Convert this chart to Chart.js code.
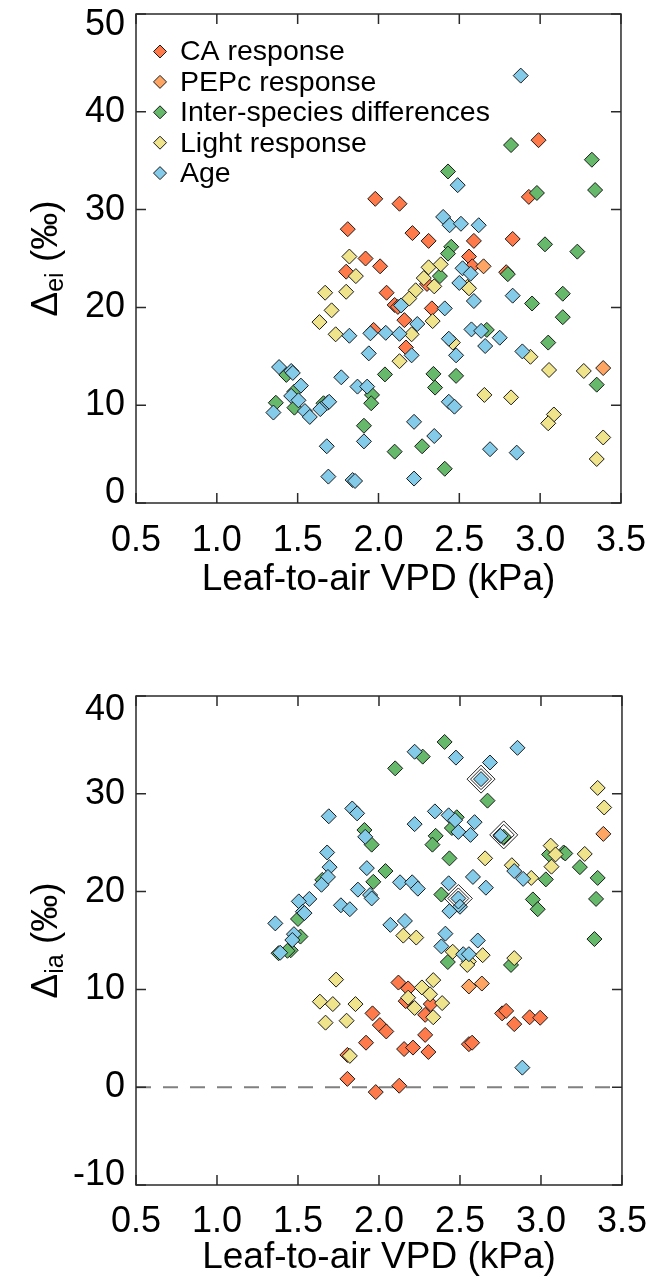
<!DOCTYPE html>
<html>
<head>
<meta charset="utf-8">
<script src="https://cdn.jsdelivr.net/npm/chart.js@4.4.1/dist/chart.umd.min.js"></script>
<style>
  html, body { margin: 0; padding: 0; background: #fff; }
  body { width: 662px; height: 1283px; position: relative; overflow: hidden; }
  canvas { position: absolute; left: 0; }
  #topChart { top: 0; }
  #bottomChart { top: 640px; }
</style>
</head>
<body>
<canvas id="topChart" width="662" height="640"></canvas>
<canvas id="bottomChart" width="662" height="643"></canvas>
<script>
const FONT = "'Liberation Sans', Arial, Helvetica, sans-serif";

const groupNames = ['CA response', 'PEPc response', 'Inter-species differences', 'Light response', 'Age'];
const groupColors = ['#FF7A4A', '#FFA564', '#66B96A', '#EFE38C', '#84CBEA'];
const xTitle = 'Leaf-to-air VPD (kPa)';

// top panel: Δei vs VPD, pairs of [VPD, Δ]
const caTop = [[1.98,31.1],[2.13,30.6],[1.81,28.0],[2.21,27.6],[2.31,26.8],[2.59,26.8],[2.83,27.0],[2.99,37.1],[2.93,31.3],[1.92,25.0],[2.56,25.2],[2.01,24.2],[1.80,23.65],[2.58,24.2],[2.79,23.6],[2.30,22.4],[2.05,21.5],[2.10,20.25],[2.12,20.05],[2.33,19.9],[2.16,18.7],[1.97,17.7],[2.17,15.9]];
const pepcTop = [[2.65,24.2],[3.39,13.8]];
const speciesTop = [[2.82,36.6],[3.32,35.1],[2.43,33.9],[3.34,32.0],[2.98,31.7],[3.03,26.45],[3.23,25.7],[2.45,26.2],[2.43,25.5],[2.38,23.2],[2.80,23.4],[2.95,20.4],[3.14,21.4],[3.14,19.0],[2.67,17.7],[3.05,16.4],[3.35,12.1],[1.43,13.1],[2.04,13.15],[2.34,13.2],[2.48,13.0],[2.35,11.8],[1.96,11.05],[1.955,10.2],[1.48,11.4],[1.365,10.25],[1.48,9.75],[1.66,10.2],[1.91,7.9],[2.10,5.25],[2.27,5.8],[2.41,3.5]];
const lightTop = [[1.82,25.2],[1.86,23.2],[2.31,24.1],[2.385,24.4],[2.28,23.0],[2.345,22.15],[2.55,22.1],[2.56,21.95],[2.23,21.75],[1.67,21.5],[1.80,21.6],[2.19,20.9],[1.71,19.7],[2.335,18.6],[1.635,18.5],[1.735,17.25],[2.205,17.25],[2.46,16.4],[2.94,14.95],[2.13,14.5],[3.055,13.6],[3.27,13.5],[2.655,11.05],[2.82,10.8],[3.085,9.05],[3.05,8.15],[3.39,6.7],[3.35,4.5]];
const ageTop = [[2.88,43.7],[2.49,32.5],[2.40,29.25],[2.44,28.4],[2.51,28.55],[2.62,28.4],[2.52,24.0],[2.57,23.45],[2.50,22.5],[2.83,21.2],[2.59,20.65],[2.14,20.2],[2.41,19.9],[2.24,18.3],[1.82,17.1],[1.95,17.35],[2.045,17.4],[2.13,17.3],[2.435,16.8],[2.575,17.75],[2.635,17.6],[2.75,16.9],[2.66,16.05],[2.89,15.5],[2.205,15.1],[1.94,15.3],[2.48,15.1],[1.385,13.9],[1.46,13.5],[1.47,13.3],[1.52,12.0],[1.77,12.85],[1.87,11.9],[1.93,11.9],[1.46,10.95],[1.505,10.5],[1.35,9.25],[1.545,9.4],[1.575,8.8],[1.64,9.6],[1.685,10.25],[1.695,10.35],[2.435,10.35],[2.47,9.85],[2.22,8.3],[2.345,6.85],[1.68,5.8],[1.91,6.3],[2.69,5.5],[2.855,5.15],[1.69,2.7],[1.84,2.35],[1.855,2.25],[2.22,2.5]];

// bottom panel: Δia vs VPD
const caBottom = [[2.12,10.7],[2.18,10.1],[2.165,8.8],[2.32,8.5],[2.285,7.4],[1.96,7.55],[2.005,6.35],[2.045,5.7],[1.92,4.55],[2.155,3.9],[2.21,4.05],[2.285,5.35],[2.305,3.6],[1.805,3.3],[1.805,0.85],[1.98,-0.5],[2.125,0.15],[2.76,7.55],[2.785,7.8],[2.835,6.45],[2.93,7.15],[2.995,7.1],[2.555,4.4],[2.575,4.55]];
const pepcBottom = [[3.385,25.9],[2.555,10.3],[2.635,10.6]];
const speciesBottom = [[2.405,35.3],[2.27,33.8],[2.10,32.6],[2.67,29.3],[2.48,27.6],[2.45,26.5],[2.77,25.6],[1.91,26.3],[1.955,24.8],[2.35,25.7],[2.33,24.8],[2.435,23.4],[1.65,21.2],[2.04,22.1],[1.965,21.0],[2.385,19.7],[3.05,23.8],[3.14,24.0],[3.15,23.9],[3.24,22.5],[3.03,21.25],[3.35,21.4],[2.95,19.2],[2.98,18.2],[3.34,19.25],[1.50,17.2],[1.515,15.4],[1.455,14.0],[1.38,13.7],[1.435,13.95],[2.425,12.8],[2.815,12.5],[3.33,15.15]];
const lightBottom = [[3.35,30.6],[3.39,28.6],[2.655,23.4],[2.82,22.7],[2.94,21.4],[3.06,24.7],[3.09,23.8],[3.065,22.55],[3.27,23.85],[2.15,15.5],[2.23,15.3],[2.455,13.85],[2.64,13.5],[2.555,12.85],[2.545,12.5],[2.835,13.2],[1.735,11.0],[1.635,8.75],[1.715,8.5],[1.855,8.5],[1.67,6.6],[1.80,6.8],[2.265,10.2],[2.335,10.95],[2.315,9.5],[2.18,9.15],[2.22,8.1],[2.39,8.6],[2.335,7.15],[1.82,3.2]];
const ageBottom = [[2.22,34.3],[2.475,33.7],[2.855,34.7],[2.685,33.2],[2.63,31.5],[1.69,27.7],[1.835,28.5],[1.865,28.0],[2.345,28.2],[2.43,27.8],[2.47,27.3],[2.59,27.1],[2.22,26.9],[2.49,26.1],[2.565,25.8],[2.75,25.7],[1.915,25.6],[1.68,24.0],[1.695,22.5],[1.685,21.5],[1.645,20.7],[1.925,22.4],[1.87,20.2],[1.945,19.65],[1.955,19.3],[2.13,20.95],[2.205,20.95],[2.24,20.3],[2.43,20.85],[2.49,19.3],[2.50,18.45],[2.435,18.0],[2.58,21.5],[2.66,20.4],[2.835,22.1],[2.89,21.3],[1.57,19.25],[1.505,19.0],[1.765,18.6],[1.82,18.2],[1.53,17.95],[1.54,17.8],[1.36,16.75],[1.475,15.65],[1.465,15.05],[1.39,13.75],[2.07,16.6],[2.16,17.0],[2.41,15.7],[2.385,14.4],[2.52,13.6],[2.61,15.0],[2.555,13.6],[2.885,2.0]];
const highlightBottom = [[2.63,31.5],[2.77,25.8],[2.49,19.3]];

const zeroLineX = [0.5, 3.5];
const zeroLineY = [0, 0];

// frame round the plot with inward tick marks on all four sides
const frameTicks = {
    id: 'frameTicks',
    afterDraw(chart) {
        const { ctx, chartArea: a, scales: { x, y } } = chart;
        ctx.save();
        ctx.strokeStyle = '#2a2a2a';
        ctx.lineWidth = 1.5;
        ctx.strokeRect(a.left, a.top, a.right - a.left, a.bottom - a.top);
        ctx.beginPath();
        x.ticks.forEach(t => {
            const px = x.getPixelForValue(t.value);
            ctx.moveTo(px, a.bottom); ctx.lineTo(px, a.bottom - 10);
            ctx.moveTo(px, a.top); ctx.lineTo(px, a.top + 10);
        });
        y.ticks.forEach(t => {
            const py = y.getPixelForValue(t.value);
            ctx.moveTo(a.left, py); ctx.lineTo(a.left + 10, py);
            ctx.moveTo(a.right, py); ctx.lineTo(a.right - 10, py);
        });
        ctx.stroke();
        ctx.restore();
    }
};

// rotated y title with a subscript: Δ_sub (‰)
const yTitle = {
    id: 'yTitle',
    afterDraw(chart, args, opts) {
        const { ctx, chartArea: a } = chart;
        const big = `37px ${FONT}`, small = `25px ${FONT}`;
        ctx.save();
        ctx.translate(opts.x, (a.top + a.bottom) / 2);
        ctx.rotate(-Math.PI / 2);
        ctx.fillStyle = '#000';
        ctx.textBaseline = 'alphabetic';
        ctx.font = big;
        const w1 = ctx.measureText('\u0394').width;
        const w3 = ctx.measureText(' (\u2030)').width;
        ctx.font = small;
        const w2 = ctx.measureText(opts.sub).width;
        let cx = -(w1 + w2 + w3) / 2;
        ctx.font = big;
        ctx.fillText('\u0394', cx, 13);
        cx += w1;
        ctx.font = small;
        ctx.fillText(opts.sub, cx, 19);
        cx += w2;
        ctx.font = big;
        ctx.fillText(' (\u2030)', cx, 13);
        ctx.restore();
    }
};

// legend sitting inside the plot, top left
const insideLegend = {
    id: 'insideLegend',
    afterDraw(chart, args, opts) {
        if (!opts.show) return;
        const { ctx, chartArea: a } = chart;
        ctx.save();
        ctx.font = `28.5px ${FONT}`;
        ctx.textBaseline = 'middle';
        groupNames.forEach((name, i) => {
            const cy = a.top + 37.5 + i * 30.4;
            const cx = a.left + 24;
            const r = 6.5;
            ctx.beginPath();
            ctx.moveTo(cx - r, cy);
            ctx.lineTo(cx, cy - r);
            ctx.lineTo(cx + r, cy);
            ctx.lineTo(cx, cy + r);
            ctx.closePath();
            ctx.fillStyle = groupColors[i];
            ctx.fill();
            ctx.strokeStyle = '#1a1a1a';
            ctx.lineWidth = 1;
            ctx.stroke();
            ctx.fillStyle = '#000';
            ctx.fillText(name, a.left + 44, cy + 1);
        });
        ctx.restore();
    }
};

const toPoints = pts => pts.map(([x, y]) => ({ x, y }));

const createPanel = (canvasId, groups, cfg) => {
    const datasets = groups.map((pts, i) => ({
        label: groupNames[i],
        data: toPoints(pts),
        pointStyle: 'rectRot',
        pointRadius: 7.5,
        pointHoverRadius: 7.5,
        backgroundColor: groupColors[i],
        borderColor: '#1a1a1a',
        borderWidth: 1,
        order: 10 - i
    }));

    if (cfg.highlight) {
        [14, 10.5].forEach(r => datasets.push({
            label: 'highlight',
            data: toPoints(cfg.highlight),
            pointStyle: 'rectRot',
            pointRadius: r,
            pointHoverRadius: r,
            backgroundColor: 'rgba(0,0,0,0)',
            borderColor: '#222',
            borderWidth: 1,
            order: 0
        }));
    }

    if (cfg.zeroLine) {
        datasets.push({
            label: 'zero',
            type: 'line',
            data: zeroLineX.map((x, i) => ({ x, y: zeroLineY[i] })),
            showLine: true,
            pointRadius: 0,
            borderColor: '#808080',
            borderWidth: 2,
            borderDash: [15, 12],
            order: 20
        });
    }

    const { yMin, yMax } = cfg;

    return new Chart(document.getElementById(canvasId), {
        type: 'scatter',
        data: { datasets },
        options: {
            responsive: false,
            devicePixelRatio: 1,
            animation: false,
            events: [],
            layout: { padding: { left: 0, right: 38, top: cfg.padTop, bottom: 0 } },
            plugins: {
                legend: { display: false },
                tooltip: { enabled: false },
                yTitle: { x: 44, sub: cfg.sub },
                insideLegend: { show: !!cfg.legend }
            },
            scales: {
                x: {
                    type: 'linear',
                    min: 0.5,
                    max: 3.5,
                    grid: { display: false, drawTicks: false },
                    border: { display: false },
                    ticks: {
                        stepSize: 0.5,
                        autoSkip: false,
                        maxRotation: 0,
                        padding: cfg.xTickPad,
                        color: '#000',
                        font: { family: FONT, size: 36 },
                        callback: v => v.toFixed(1)
                    },
                    title: {
                        display: true,
                        text: xTitle,
                        color: '#000',
                        font: { family: FONT, size: 37 },
                        padding: { top: 0, bottom: cfg.xTitlePad }
                    },
                    afterFit: s => { s.height = cfg.xHeight; }
                },
                y: {
                    type: 'linear',
                    min: yMin,
                    max: yMax,
                    grid: { display: false, drawTicks: false },
                    border: { display: false },
                    ticks: {
                        stepSize: 10,
                        padding: 11,
                        color: '#000',
                        font: c => {
                            const v = c.tick ? c.tick.value : null;
                            let lh = 1.2;
                            if (v === yMax) lh = cfg.topShift * 2 + 'px';
                            if (v === yMin) lh = '20px';
                            return { family: FONT, size: 36, lineHeight: lh };
                        },
                        // end labels are nudged inward like the original
                        callback: v => {
                            if (v === yMax) return ['', String(v)];
                            if (v === yMin) return [String(v), ''];
                            return String(v);
                        }
                    },
                    afterFit: s => {
                        s.width = 136;
                        s.paddingTop = 0;
                        s.paddingBottom = 0;
                    }
                }
            }
        },
        plugins: [frameTicks, yTitle, insideLegend]
    });
};

createPanel('topChart', [caTop, pepcTop, speciesTop, lightTop, ageTop], {
    yMin: 0, yMax: 50, sub: 'ei', legend: true, topShift: 11,
    padTop: 14, xHeight: 137, xTickPad: 16, xTitlePad: 38
});

createPanel('bottomChart', [caBottom, pepcBottom, speciesBottom, lightBottom, ageBottom], {
    yMin: -10, yMax: 40, sub: 'ia', legend: false, topShift: 14,
    padTop: 56, xHeight: 98, xTickPad: 15, xTitlePad: 3,
    highlight: highlightBottom, zeroLine: true
});
</script>
</body>
</html>
